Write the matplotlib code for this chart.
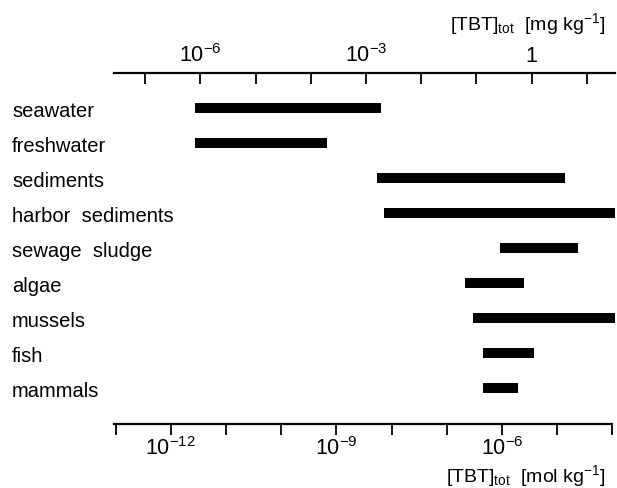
import numpy as np
import matplotlib
matplotlib.use("Agg")
import matplotlib.pyplot as plt
from matplotlib.transforms import blended_transform_factory

plt.rcParams['font.family'] = ['Liberation Sans', 'DejaVu Sans']
plt.rcParams['mathtext.fontset'] = 'custom'
plt.rcParams['mathtext.rm'] = 'Liberation Sans'
plt.rcParams['mathtext.it'] = 'Liberation Sans'

# ranges of total TBT in mg/kg
compartments = ['seawater', 'freshwater', 'sediments', 'harbor  sediments',
                'sewage  sludge', 'algae', 'mussels', 'fish', 'mammals']
low_mg = [8e-7, 8e-7, 1.6e-3, 2.1e-3, 0.27, 0.062, 0.087, 0.13, 0.13]
high_mg = [1.9e-3, 2e-4, 4.0, 32.0, 7.0, 0.72, 32.0, 1.1, 0.56]

molar_mass = 2.9e5  # mg per mol of TBT

bottom_ticks = [1e-13, 1e-12, 1e-11, 1e-10, 1e-9, 1e-8, 1e-7, 1e-6, 1e-5, 1e-4]
bottom_labels = ['', '$10^{-12}$', '', '', '$10^{-9}$', '', '', '$10^{-6}$', '', '']
top_ticks = [1e-7, 1e-6, 1e-5, 1e-4, 1e-3, 1e-2, 1e-1, 1, 10]
top_labels = ['', '$10^{-6}$', '', '', '$10^{-3}$', '', '', '1', '']

fig = plt.figure(figsize=(6.17, 4.89), dpi=100)
ax = fig.add_axes([114 / 617, 1 - 425 / 489, (615 - 114) / 617, (425 - 74) / 489])

lo = np.array(low_mg) / molar_mass
hi = np.array(high_mg) / molar_mass
rows = np.arange(len(compartments))
ax.barh(rows, hi - lo, left=lo, height=0.3, color='black')

ax.set_xscale('log')
ax.set_xlim(10 ** -13.03, 10 ** -3.95)
ax.set_ylim(9.03, -1.0)

for s in ['top', 'left', 'right']:
    ax.spines[s].set_visible(False)
ax.spines['bottom'].set_linewidth(1.6)
ax.spines['bottom'].set_bounds(10 ** -13.03, 1e-4)
ax.set_yticks([])
ax.set_xticks(bottom_ticks)
ax.set_xticklabels(bottom_labels)
ax.xaxis.set_minor_locator(matplotlib.ticker.NullLocator())
ax.tick_params(axis='x', direction='out', length=8, width=1.3, labelsize=15.5, pad=1)

top = ax.secondary_xaxis('top', functions=(lambda x: x * molar_mass,
                                           lambda x: x / molar_mass))
top.set_xticks(top_ticks)
top.set_xticklabels(top_labels)
top.xaxis.set_minor_locator(matplotlib.ticker.NullLocator())
top.tick_params(axis='x', direction='in', length=8, width=1.3, labelsize=15.5, pad=5)
top.spines['top'].set_linewidth(1.6)

trans = blended_transform_factory(fig.transFigure, ax.transData)
for r, name in zip(rows, compartments):
    ax.text(12 / 617, r + 0.22, name, transform=trans, fontsize=14.5,
            ha='left', va='baseline')

fig.text(605 / 617, 1 - 30 / 489, r'[TBT]$_{\mathregular{tot}}$  [mg kg$^{-1}$]',
         fontsize=14, ha='right', va='baseline')
fig.text(605 / 617, 1 - 482 / 489, r'[TBT]$_{\mathregular{tot}}$  [mol kg$^{-1}$]',
         fontsize=14, ha='right', va='baseline')

fig.savefig('out.png', dpi=100)
